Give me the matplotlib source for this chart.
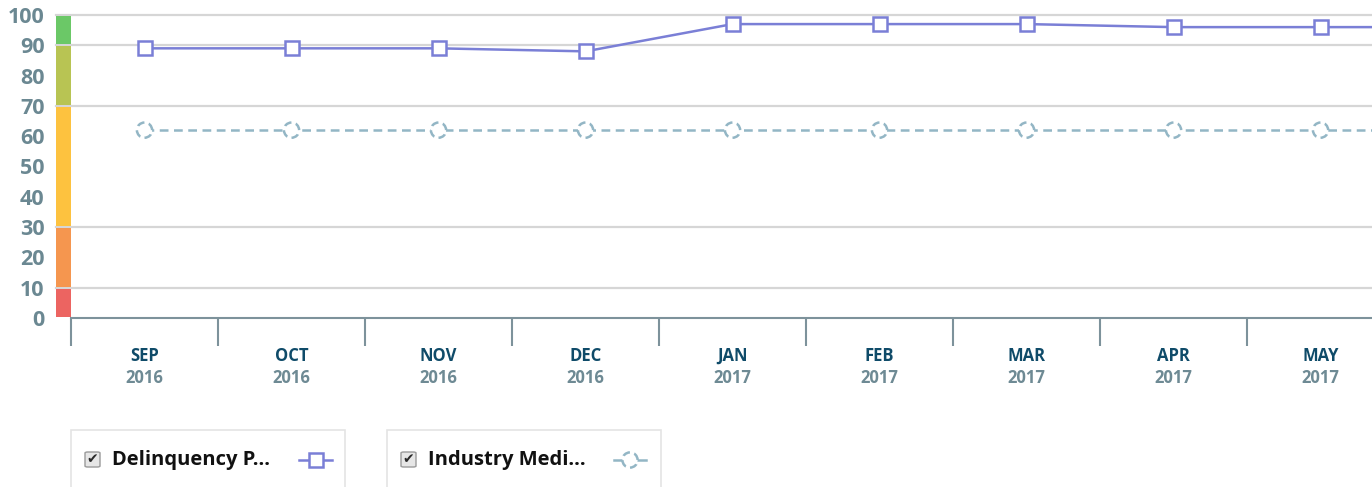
import matplotlib.pyplot as plt
import matplotlib.transforms as mtransforms
from matplotlib.patches import Rectangle, FancyBboxPatch
from matplotlib.lines import Line2D

W, H = 1372, 487

# data
months = ['SEP', 'OCT', 'NOV', 'DEC', 'JAN', 'FEB', 'MAR', 'APR', 'MAY', 'JUN']
years = ['2016', '2016', '2016', '2016', '2017', '2017', '2017', '2017', '2017', '2017']
delinquency = [89, 89, 89, 88, 97, 97, 97, 96, 96, 96]
industry_median = [62, 62, 62, 62, 62, 62, 62, 62, 62, 62]
n_visible = 9

# colour bands on the left of the y axis
band_edges = [0, 10, 30, 70, 90, 100]
band_colors = ['#ec6461', '#f5964f', '#fdc23f', '#b8c453', '#6bc867']
grid_levels = [10, 30, 70, 90, 100]

plt.rcParams['font.family'] = ['Open Sans', 'DejaVu Sans']

fig = plt.figure(figsize=(W / 100, H / 100), dpi=100)


def fx(x):
    return x / W


def fy(y):
    return 1 - y / H


ax = fig.add_axes([fx(71), fy(318), 1 - fx(71), fy(15) - fy(318)])
ax.set_xlim(-0.5, 8.35)
ax.set_ylim(0, 100)
for s in ['top', 'right', 'left']:
    ax.spines[s].set_visible(False)
ax.spines['bottom'].set_color('#7d929b')
ax.spines['bottom'].set_linewidth(1.5)

blend = mtransforms.blended_transform_factory(ax.transAxes, ax.transData)
bar_left = -15 / 1301

# grid lines (also run across the colour bar)
for g in grid_levels:
    ax.plot([bar_left, 1], [g, g], transform=blend, color='#d6d6d6',
            lw=1.6, clip_on=False, zorder=1)

# colour bar
for i, c in enumerate(band_colors):
    lo, hi = band_edges[i], band_edges[i + 1]
    ax.add_patch(Rectangle((bar_left, lo + 0.35), -bar_left, hi - lo - 0.7,
                           transform=blend, facecolor=c, edgecolor='none',
                           clip_on=False, zorder=2))

# y ticks
ax.set_yticks(range(0, 101, 10))
ax.tick_params(axis='y', length=0, pad=19, labelsize=15.5, labelcolor='#6b8892')
for lab in ax.get_yticklabels():
    lab.set_fontweight('bold')

# x ticks at month boundaries
ax.set_xticks([i + 0.5 for i in range(-1, n_visible - 1)])
ax.set_xticklabels([])
ax.tick_params(axis='x', length=20, width=1.5, color='#7d929b', direction='out')

for i in range(n_visible):
    ax.annotate(months[i], (i, 0), xycoords='data', xytext=(0, -27.5),
                textcoords='offset points', ha='center', va='center',
                fontsize=12, fontweight='bold', color='#0f4b69',
                annotation_clip=False)
    ax.annotate(years[i], (i, 0), xycoords='data', xytext=(0, -43.5),
                textcoords='offset points', ha='center', va='center',
                fontsize=12, fontweight='bold', color='#6e8a94',
                annotation_clip=False)

x = list(range(len(months)))
line_col = '#7a7fd6'
med_col = '#93b6c5'

ax.plot(x, industry_median, color=med_col, lw=1.8, ls=(0, (3.5, 2.2)), zorder=3)
ax.scatter(x, industry_median, s=120, facecolor='white', edgecolor=med_col,
           linewidths=1.8, linestyles=(0, (3, 1.8)), zorder=4)

ax.plot(x, delinquency, color=line_col, lw=1.8, marker='s', ms=9.5,
        mfc='white', mec=line_col, mew=1.8, zorder=5)


# legend boxes
def legend_item(x0, label, kind):
    fig.patches.append(Rectangle((fx(x0), fy(492)), fx(274), fy(430) - fy(492),
                                 transform=fig.transFigure, facecolor='white',
                                 edgecolor='#e4e4e4', lw=1.2))
    fig.patches.append(FancyBboxPatch((fx(x0 + 14), fy(467)), fx(15), fy(452) - fy(467),
                                      boxstyle='round,pad=0,rounding_size=0.002',
                                      transform=fig.transFigure, facecolor='#e6e6e6',
                                      edgecolor='#9a9a9a', lw=1))
    fig.text(fx(x0 + 21.5), fy(459.5), '\u2714', family='DejaVu Sans', fontsize=10,
             color='#2a2a2a', ha='center', va='center')
    fig.text(fx(x0 + 41), fy(460), label, fontsize=14.5, fontweight='bold',
             color='#111111', ha='left', va='center')
    lx = fig.add_axes([fx(x0 + 220), fy(475), fx(50), fy(445) - fy(475)])
    lx.set_zorder(5)
    lx.set_axis_off()
    lx.set_xlim(0, 50)
    lx.set_ylim(0, 30)
    if kind == 'square':
        lx.plot([8, 41], [15, 15], color=line_col, lw=1.8)
        lx.plot([24.5], [15], marker='s', ms=9.5, mfc='white', mec=line_col,
                mew=1.8, ls='none')
    else:
        lx.plot([7, 39], [15, 15], color=med_col, lw=1.8)
        lx.scatter([23], [15], s=120, facecolor='white', edgecolor=med_col,
                   linewidths=1.8, linestyles=(0, (3, 1.8)), zorder=3)


legend_item(71, 'Delinquency P...', 'square')
legend_item(387, 'Industry Medi...', 'circle')

fig.savefig('out.png', dpi=100)
